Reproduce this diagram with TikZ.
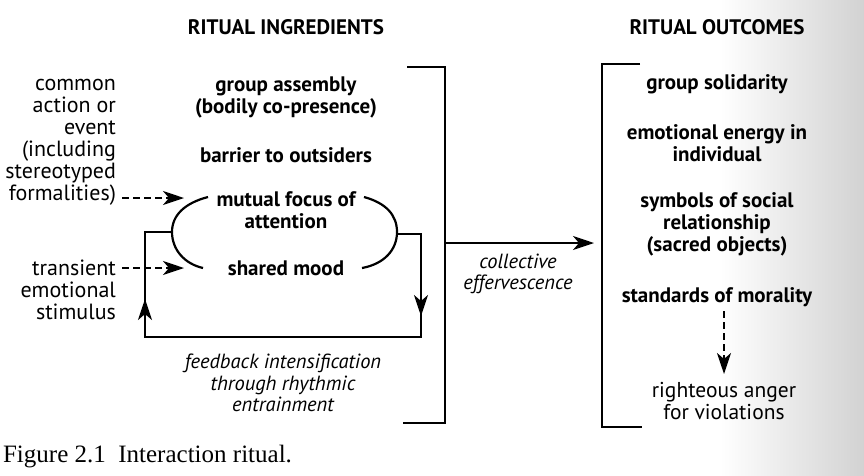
\documentclass[tikz,border=0pt]{standalone}
\usepackage{fontspec}
\setmainfont{PT Sans}
\newfontfamily\capfont{Liberation Serif}
\usetikzlibrary{arrows.meta}
\begin{document}
\begin{tikzpicture}[x=1pt,y=-1pt,line width=2.2pt,
  head/.style={font=\bfseries\fontsize{21}{22}\selectfont,inner sep=0},
  ing/.style={font=\bfseries\fontsize{21}{22}\selectfont,align=center,inner sep=0},
  side/.style={font=\fontsize{22}{22}\selectfont,align=right,inner sep=0,anchor=east},
  plain/.style={font=\fontsize{21.5}{22}\selectfont,align=center,inner sep=0},
  itl/.style={font=\itshape\fontsize{20.5}{21.5}\selectfont,align=center,inner sep=0},
  tip/.style={-{Stealth[length=21pt,width=14pt,inset=6pt]}},
  dsh/.style={dash pattern=on 7pt off 4pt}]
\useasboundingbox (0,0) rectangle (864,475);
\begin{scope}
\clip (0,0) rectangle (864,475);
\shade[left color=white,right color=black!22,draw=none] (720,0) rectangle (900,475);
\end{scope}
% headings
\node[head] (h1) at (286,27) {RITUAL INGREDIENTS};
\node[head] (h2) at (717,27) {RITUAL OUTCOMES};
% ingredients
\node[ing] (ga) at (286,97) {group assembly\\(bodily co-presence)};
\node[ing] (bo) at (286,155) {barrier to outsiders};
\node[ing] (mf) at (286,210) {mutual focus of\\attention};
\node[ing] (sm) at (286,268) {shared mood};
% side inputs
\node[side] (ca) at (117,142) {common\\action or\\event\\(including\\stereotyped\\formalities)};
\node[side] (ts) at (117,290) {transient\\emotional\\stimulus};
% feedback
\node[itl] (fb) at (283,383) {feedback intensification\\through rhythmic\\entrainment};
\node[itl] (ce) at (518,274) {collective\\effervescence};
% outcomes
\node[ing] (gs) at (717,84) {group solidarity};
\node[ing] (ee) at (717,143) {emotional energy in\\individual};
\node[ing] (sy) at (717,224) {symbols of social\\relationship\\(sacred objects)};
\node[ing] (st) at (717,297) {standards of morality};
\node[plain] (ra) at (724,401) {righteous anger\\for violations};
% caption
\node[anchor=west,inner sep=0,font=\capfont\fontsize{25}{26}\selectfont] (cap) at (2,457) {Figure 2.1\ \ Interaction ritual.};
% brackets
\coordinate (lbt) at (407,67); \coordinate (lbtr) at (445,67);
\coordinate (lbbr) at (445,423); \coordinate (lbb) at (403,423);
\draw (lbt) -- (lbtr) -- (lbbr) -- (lbb);
\coordinate (rbt) at (640,64); \coordinate (rbtl) at (602,64);
\coordinate (rbbl) at (602,427); \coordinate (rbb) at (642,427);
\draw (rbt) -- (rbtl) -- (rbbl) -- (rbb);
% main arrow
\coordinate (ma) at (445,243); \coordinate (mb) at (594,243);
\draw[tip] (ma) -- (mb);
% round brackets
\coordinate (p1) at (208,197); \coordinate (p2) at (172,232); \coordinate (p3) at (203,268);
\draw (p1) .. controls (185,203) and (172,215) .. (p2) .. controls (172,250) and (185,264) .. (p3);
\coordinate (q1) at (364,197); \coordinate (q2) at (397,232); \coordinate (q3) at (362,268);
\draw (q1) .. controls (386,203) and (397,215) .. (q2) .. controls (397,250) and (384,264) .. (q3);
% feedback loop
\coordinate (l1) at (145,232); \coordinate (l2) at (145,337);
\coordinate (r1) at (421,234); \coordinate (r2) at (421,337);
\draw (p2) -- (l1) -- (l2) -- (r2) -- (r1) -- (397,234);
\coordinate (ad1) at (421,280); \coordinate (ad2) at (421,316);
\draw[tip] (ad1) -- (ad2);
\coordinate (au1) at (145,330); \coordinate (au2) at (145,299);
\draw[tip] (au1) -- (au2);
% dashed inputs
\coordinate (d1) at (122,198); \coordinate (d2) at (184,198);
\draw[dsh,tip] (d1) -- (d2);
\coordinate (e1) at (122,268); \coordinate (e2) at (184,268);
\draw[dsh,tip] (e1) -- (e2);
% dashed down
\coordinate (f1) at (724,311); \coordinate (f2) at (724,374);
\draw[dsh,tip] (f1) -- (f2);
\end{tikzpicture}
\end{document}
